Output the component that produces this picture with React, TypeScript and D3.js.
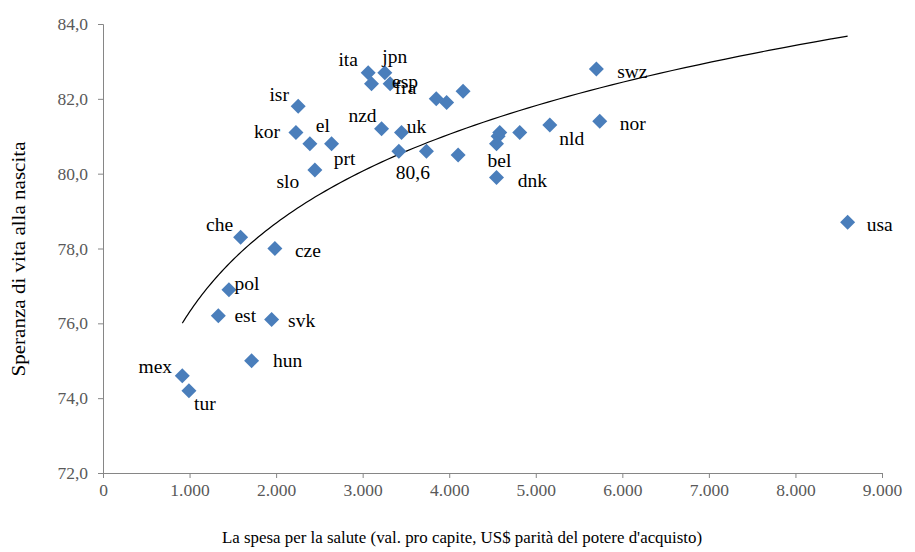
import { useEffect, useRef } from 'react';
import * as d3 from 'd3';

// Spesa sanitaria pro capite (US$ PPA) e speranza di vita alla nascita
const countries = [
  'mex', 'tur', 'hun', 'svk', 'est', 'pol', 'che', 'cze', 'slo', 'kor', 'isr', 'el',
  'prt', 'ita', 'jpn', 'fra', 'esp', 'aus', 'isl', 'swe', 'nzd', 'uk', 'fin', 'irl',
  'deu', 'can', 'aut', 'bel', 'dnk', 'lux', 'nld', 'nor', 'swz', 'usa'
];
const spending = [
  916, 993, 1717, 1948, 1332, 1455, 1590, 1986, 2448, 2229, 2255, 2390,
  2641, 3064, 3256, 3102, 3317, 3850, 3970, 4160, 3218, 3449, 3418, 3737,
  4103, 4584, 4565, 4546, 4546, 4815, 5162, 5739, 5700, 8603
];
const lifeExp = [
  74.6, 74.2, 75.0, 76.1, 76.2, 76.9, 78.3, 78.0, 80.1, 81.1, 81.8, 80.8,
  80.8, 82.7, 82.7, 82.4, 82.4, 82.0, 81.9, 82.2, 81.2, 81.1, 80.6, 80.6,
  80.5, 81.1, 81.0, 80.8, 79.9, 81.1, 81.3, 81.4, 82.8, 78.7
];
const labels = [
  'mex', 'tur', 'hun', 'svk', 'est', 'pol', 'che', 'cze', 'slo', 'kor', 'isr', 'el',
  'prt', 'ita', 'jpn', 'fra', 'esp', '', '', '', 'nzd', 'uk', '80,6', '',
  '', '', '', 'bel', 'dnk', '', 'nld', 'nor', 'swz', 'usa'
];
const xTicks = [0, 1000, 2000, 3000, 4000, 5000, 6000, 7000, 8000, 9000];
const yTicks = [72, 74, 76, 78, 80, 82, 84];

// label placement (offset of label centre from the marker)
const labelOffset: Record<string, [number, number]> = {
  mex: [-27, -9], tur: [16, 13], hun: [36, 0], svk: [30, 1], est: [27, 0],
  pol: [18, -6], che: [-21, -13], cze: [33, 2], slo: [-27, 12], kor: [-29, -1],
  isr: [-19, -12], el: [13, -18], prt: [13, 15], ita: [-20, -13], jpn: [10, -16],
  fra: [34, 4], esp: [15, -2], nzd: [-19, -13], uk: [15, -6], fin: [14, 21],
  bel: [3, 17], dnk: [36, 3], nld: [22, 13], nor: [33, 2], swz: [36, 3], usa: [32, 2]
};

const SERIF = "'Liberation Serif', 'Times New Roman', 'DejaVu Serif', serif";

export default function App() {
  const svgRef = useRef<SVGSVGElement>(null);

  useEffect(() => {
    if (!svgRef.current) return;
    const svg = d3.select(svgRef.current);
    svg.selectAll('*').remove();

    const margin = { top: 24, right: 33, bottom: 79, left: 103 };
    const width = 915;
    const height = 552;
    const w = width - margin.left - margin.right;
    const h = height - margin.top - margin.bottom;

    const x = d3.scaleLinear().domain([0, 9000]).range([0, w]);
    const y = d3.scaleLinear().domain([72, 84]).range([h, 0]);

    svg.append('rect').attr('width', width).attr('height', height).attr('fill', 'white');

    const g = svg.append('g').attr('transform', `translate(${margin.left},${margin.top})`);

    const fmtX = (d: number) => d === 0 ? '0' : d3.format(',')(d).replace(/,/g, '.');
    const fmtY = (d: number) => d.toFixed(1).replace('.', ',');

    const xAxis = g.append('g')
      .attr('transform', `translate(0,${h})`)
      .call(d3.axisBottom(x).tickValues(xTicks).tickFormat(d => fmtX(+d)).tickSize(5).tickPadding(6));
    const yAxis = g.append('g')
      .call(d3.axisLeft(y).tickValues(yTicks).tickFormat(d => fmtY(+d)).tickSize(5).tickPadding(10));

    [xAxis, yAxis].forEach(a => {
      a.attr('font-family', SERIF).attr('font-size', 17.5);
      a.select('.domain').attr('stroke', '#868686');
      a.selectAll('.tick line').attr('stroke', '#868686');
      a.selectAll('.tick text').attr('fill', '#595959');
    });

    // logarithmic trend line, least squares fit y = a ln(x) + b
    const lx = spending.map(v => Math.log(v));
    const mx = d3.mean(lx)!;
    const my = d3.mean(lifeExp)!;
    const a = d3.sum(lx, (v, i) => (v - mx) * (lifeExp[i] - my)) / d3.sum(lx, v => (v - mx) ** 2);
    const b = my - a * mx;
    const [x0, x1] = d3.extent(spending) as [number, number];
    const trend = d3.range(0, 101).map(i => x0 * Math.pow(x1 / x0, i / 100));
    g.append('path')
      .datum(trend)
      .attr('fill', 'none')
      .attr('stroke', 'black')
      .attr('stroke-width', 1.2)
      .attr('d', d3.line<number>().x(d => x(d)).y(d => y(a * Math.log(d) + b)).curve(d3.curveBasis));

    const pts = countries.map((c, i) => ({ c, sx: spending[i], ly: lifeExp[i], label: labels[i] }));

    const r = 7.5;
    g.selectAll('.pt')
      .data(pts)
      .enter().append('path')
      .attr('class', 'pt')
      .attr('transform', d => `translate(${x(d.sx)},${y(d.ly)})`)
      .attr('d', `M0,${-r}L${r},0L0,${r}L${-r},0Z`)
      .attr('fill', '#4a7ebb');

    g.selectAll('.lbl')
      .data(pts.filter(d => d.label))
      .enter().append('text')
      .attr('class', 'lbl')
      .attr('x', d => x(d.sx) + (labelOffset[d.c]?.[0] ?? 0))
      .attr('y', d => y(d.ly) + (labelOffset[d.c]?.[1] ?? 0))
      .attr('text-anchor', 'middle')
      .attr('dominant-baseline', 'central')
      .attr('font-family', SERIF)
      .attr('font-size', 19.5)
      .attr('fill', 'black')
      .text(d => d.label);

    svg.append('text')
      .attr('x', 462)
      .attr('y', 543)
      .attr('text-anchor', 'middle')
      .attr('font-family', SERIF)
      .attr('font-size', 17)
      .attr('textLength', 480)
      .attr('lengthAdjust', 'spacingAndGlyphs')
      .text("La spesa per la salute (val. pro capite, US$ parità del potere d'acquisto)");

    svg.append('text')
      .attr('transform', 'translate(25,259) rotate(-90)')
      .attr('text-anchor', 'middle')
      .attr('font-family', SERIF)
      .attr('font-size', 18)
      .attr('textLength', 235)
      .attr('lengthAdjust', 'spacingAndGlyphs')
      .text('Speranza di vita alla nascita');
  }, []);

  return (
    <svg
      ref={svgRef}
      width={915}
      height={552}
      style={{ position: 'absolute', left: 0, top: 0, fontFamily: SERIF }}
    />
  );
}
